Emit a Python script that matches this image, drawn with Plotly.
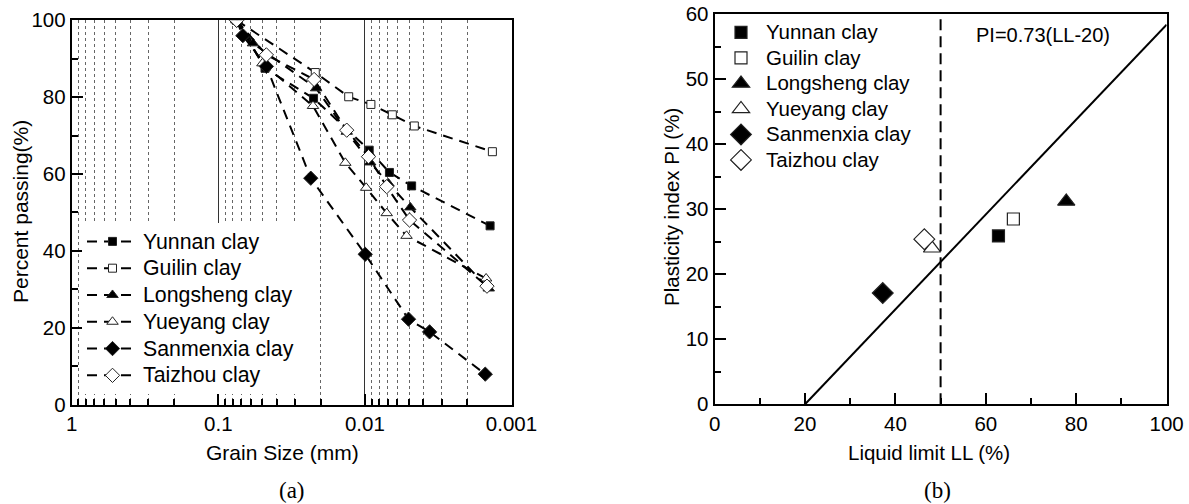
import plotly.graph_objects as go

# ---------------- data: (a) grain size distribution ----------------
names = ["Yunnan clay", "Guilin clay", "Longsheng clay", "Yueyang clay", "Sanmenxia clay", "Taizhou clay"]

yunnan_d = [0.075, 0.048, 0.0224, 0.00935, 0.0068, 0.0048, 0.0014]
yunnan_p = [100, 87.5, 79.7, 66.2, 60.4, 56.9, 46.5]
guilin_d = [0.075, 0.0218, 0.0129, 0.0091, 0.0065, 0.0046, 0.00135]
guilin_p = [100, 86.4, 80.1, 78.1, 75.4, 72.5, 65.8]
longsheng_d = [0.075, 0.058, 0.0215, 0.0133, 0.0092, 0.0069, 0.0049, 0.00143]
longsheng_p = [100, 94, 82.3, 71.0, 63.0, 57.5, 51.3, 30.2]
yueyang_d = [0.075, 0.050, 0.0226, 0.0136, 0.0098, 0.0071, 0.0052, 0.00149]
yueyang_p = [100, 88.8, 77.7, 62.9, 56.4, 49.8, 43.9, 32.8]
sanmenxia_d = [0.075, 0.068, 0.047, 0.0234, 0.00995, 0.00504, 0.00362, 0.00151]
sanmenxia_p = [100, 96, 88, 58.9, 39.1, 22.2, 18.9, 7.9]
taizhou_d = [0.075, 0.047, 0.0222, 0.0133, 0.00945, 0.0071, 0.00496, 0.00147]
taizhou_p = [100, 91, 84.6, 71.4, 64.5, 56.7, 48.0, 30.8]

grain_d = [yunnan_d, guilin_d, longsheng_d, yueyang_d, sanmenxia_d, taizhou_d]
grain_p = [yunnan_p, guilin_p, longsheng_p, yueyang_p, sanmenxia_p, taizhou_p]

# ---------------- data: (b) plasticity chart ----------------
liquid_limit = [62.8, 66.1, 77.8, 48.1, 37.2, 46.4]
plasticity_index = [25.9, 28.5, 31.2, 24.0, 17.1, 25.4]
aline_ll = [20, 100]
aline_pi = [0.73 * (v - 20) for v in aline_ll]
ll_boundary = [50, 50]
pi_boundary = [0, 60]

symbols = ["square", "square", "triangle-up", "triangle-up", "diamond", "diamond"]
fills = ["black", "white", "black", "white", "black", "white"]
size_a = [8, 8, 10, 10, 11, 11]
size_b = [12, 12, 15, 15, 16, 16]

FONT = "Arial, Liberation Sans, sans-serif"
SERIF = "Liberation Serif, Times New Roman, serif"
W, H = 1189, 504

def styled(name, size):
    return f"<span style='font-size:{size}px'>{name}</span>"

fig = go.Figure()

for i, n in enumerate(names):
    fig.add_trace(go.Scatter(
        x=grain_d[i], y=grain_p[i], name=styled(n, 21.3), mode="lines+markers",
        line=dict(color="black", width=2, dash="10px,7px"),
        marker=dict(symbol=symbols[i], size=size_a[i], color=fills[i],
                    line=dict(color="#222", width=1)),
        xaxis="x", yaxis="y", legend="legend",
    ))

fig.add_trace(go.Scatter(x=aline_ll, y=aline_pi, mode="lines", showlegend=False,
                         line=dict(color="black", width=2), xaxis="x2", yaxis="y2"))
fig.add_trace(go.Scatter(x=ll_boundary, y=pi_boundary, mode="lines", showlegend=False,
                         line=dict(color="black", width=2, dash="11px,6px"), xaxis="x2", yaxis="y2"))

for i, n in enumerate(names):
    fig.add_trace(go.Scatter(
        x=[liquid_limit[i]], y=[plasticity_index[i]], name=styled(n, 20.5), mode="markers",
        marker=dict(symbol=symbols[i], size=size_b[i], color=fills[i],
                    line=dict(color="#222", width=1.2)),
        xaxis="x2", yaxis="y2", legend="legend2",
    ))

def px(x):
    return x / W

def py(y):
    return 1 - y / H

axis_common = dict(showline=True, linecolor="black", linewidth=2, mirror=True,
                   ticks="inside", tickcolor="black", tickwidth=2, ticklen=11,
                   tickfont=dict(family=FONT, size=20.5, color="black"), zeroline=False,
                   automargin=False)

fig.update_layout(
    width=W, height=H, margin=dict(l=0, r=0, t=0, b=0, pad=0, autoexpand=False),
    paper_bgcolor="white", plot_bgcolor="white",
    font=dict(family=FONT, color="black"),
    xaxis=dict(axis_common, type="log", domain=[px(71.7), px(511.5)], range=[0, -3],
               tickmode="linear", tick0=0, dtick=1, exponentformat="none",
               showgrid=True, gridcolor="#333", gridwidth=1.3,
               minor=dict(dtick="D1", ticks="inside", ticklen=6, tickcolor="black", tickwidth=2,
                          showgrid=True, gridcolor="#666", gridwidth=1, griddash="3px,3px"),
               anchor="y"),
    yaxis=dict(axis_common, domain=[py(404.5), py(20.3)], range=[0, 100], dtick=20,
               showgrid=False,
               minor=dict(dtick=10, ticks="inside", ticklen=6, tickcolor="black", tickwidth=2),
               anchor="x"),
    xaxis2=dict(axis_common, domain=[px(714.6), px(1166.6)], range=[0, 100], dtick=20,
                showgrid=False,
                minor=dict(dtick=10, ticks="inside", ticklen=6, tickcolor="black", tickwidth=2),
                anchor="y2"),
    yaxis2=dict(axis_common, domain=[py(404.3), py(14.2)], range=[0, 60], dtick=10,
                showgrid=False,
                minor=dict(dtick=5, ticks="inside", ticklen=6, tickcolor="black", tickwidth=2),
                anchor="x2"),
    legend=dict(x=px(82), y=py(223), xanchor="left", yanchor="top", bgcolor="white",
                font=dict(family=FONT, size=18.3, color="black"), tracegroupgap=0,
                borderwidth=0, itemwidth=51),
    legend2=dict(x=px(716), y=py(14.7), xanchor="left", yanchor="top", bgcolor="rgba(0,0,0,0)",
                 font=dict(family=FONT, size=17.3, color="black"), tracegroupgap=0,
                 borderwidth=0, itemwidth=40),
    showlegend=True,
)

def note(text, x, y, size=21, family=FONT, angle=0, xref="paper", yref="paper"):
    return dict(text=text, x=x, y=y, xref=xref, yref=yref, xanchor="center", yanchor="middle",
                showarrow=False, textangle=angle, font=dict(family=family, size=size, color="black"))

annotations = [
    note("Grain Size (mm)", px(282), py(452)),
    note("Percent passing(%)", px(20), py(212), angle=-90),
    note("Liquid limit LL (%)", px(929), py(452), size=20.5),
    note("Plasticity index PI (%)", px(671), py(207), size=20.5, angle=-90),
    note("PI=0.73(LL-20)", 72.7, 56.8, size=20, xref="x2", yref="y2"),
    note("(a)", px(291.7), py(490), size=23, family=SERIF),
    note("(b)", px(937.5), py(490), size=23, family=SERIF),
]
fig.update_layout(annotations=annotations)

fig.write_html("out.html")
